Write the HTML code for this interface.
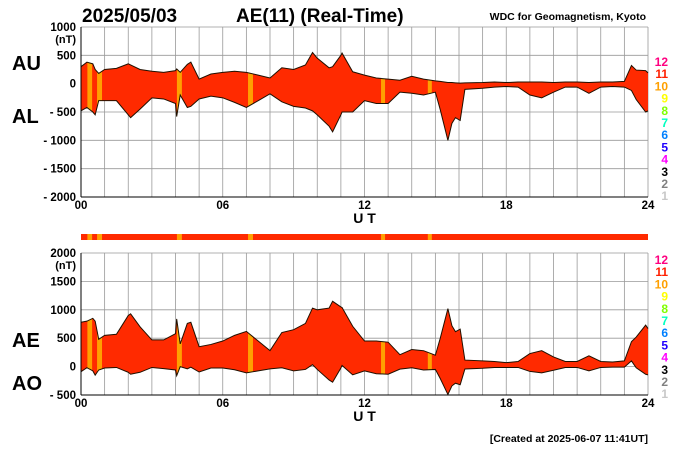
<!DOCTYPE html>
<html><head><meta charset="utf-8"><style>
body{margin:0;background:#fff;width:700px;height:450px;overflow:hidden}
svg{display:block;font-family:"Liberation Sans",Arial,sans-serif;font-weight:bold}
</style></head><body>
<svg id="c" width="700" height="450" viewBox="0 0 700 450">
<text x="82" y="22" font-size="19">2025/05/03</text>
<text x="236" y="22" font-size="19">AE(11) (Real-Time)</text>
<text x="646" y="20" font-size="10.5" text-anchor="end" style="font-weight:600">WDC for Geomagnetism, Kyoto</text>
<text x="12" y="70" font-size="20">AU</text>
<text x="12" y="123" font-size="20">AL</text>
<text x="12" y="347" font-size="20">AE</text>
<text x="12" y="390" font-size="20">AO</text>
<text x="648" y="442" font-size="10.5" text-anchor="end">[Created at 2025-06-07 11:41UT]</text>
<g id="g"></g>
</svg>
<script>
const hours=[0,0.25,0.5,0.6,0.75,1,1.5,2,2.1,2.5,3,3.5,4,4.05,4.2,4.5,4.65,5,5.5,6,6.5,7,7.5,8,8.5,9,9.5,9.8,10,10.5,10.65,11,11.05,11.5,12,12.5,13,13.5,14,14.5,15,15.2,15.53,15.7,15.85,16.05,16.25,17,17.5,18,18.5,19,19.5,20,20.5,21,21.5,22,22.5,23,23.3,23.5,23.9,24];
const au=[300,380,350,250,180,250,270,350,330,250,220,200,230,260,200,340,380,80,170,200,220,200,150,100,280,250,330,550,450,280,300,500,540,210,150,100,80,60,130,80,50,40,20,20,15,10,15,20,30,20,30,30,30,20,30,30,20,30,30,40,320,240,230,190];
const al=[-480,-420,-500,-550,-300,-300,-300,-550,-600,-450,-250,-270,-350,-580,-200,-420,-400,-270,-220,-250,-330,-420,-300,-180,-320,-400,-430,-480,-550,-750,-850,-550,-500,-500,-300,-350,-350,-150,-170,-200,-150,-450,-1000,-700,-600,-650,-100,-80,-60,-50,-60,-200,-250,-150,-60,-60,-170,-60,-50,-60,-120,-280,-500,-480];
const fewStart=[0.27,0.68,4.06,7.07,12.7,14.68];
const fewEnd=[0.47,0.89,4.27,7.28,12.87,14.85];
const topTicks=[1000,500,0,-500,-1000,-1500,-2000];
const botTicks=[2000,1500,1000,500,0,-500];
const xTicks=["00","06","12","18","24"];
const legendNums=["12","11","10","9","8","7","6","5","4","3","2","1"];
const legendCols=["#ff0080","#ff2000","#ffa000","#ffff00","#80ff00","#00ffc0","#0080ff","#2000ff","#ff00ff","#000000","#808080","#c8c8c8"];

const NS="http://www.w3.org/2000/svg",g=document.getElementById('g');
const X0=81,X1=648;
const xs=h=>X0+(X1-X0)*h/24;
function mk(t,a,p){const e=document.createElementNS(NS,t);for(const k in a)e.setAttribute(k,a[k]);(p||g).appendChild(e);return e;}
function panel(id,yTop,yBot,vMax,vMin,upper,lower,ticks,legTop){
  const ys=v=>yTop+(vMax-v)*(yBot-yTop)/(vMax-vMin);
  const pg=mk('g',{});
  
  
  for(let h=0;h<=24;h++){const l=mk('line',{x1:xs(h),x2:xs(h),y1:yTop,y2:yBot,stroke:'#999','stroke-width':0.8},pg);
    }
  ticks.forEach(v=>{const l=mk('line',{x1:X0,x2:X1,y1:ys(v),y2:ys(v),stroke:'#999','stroke-width':0.8},pg);
    
    const t=mk('text',{x:76,y:ys(v)+4,'font-size':11.5,'text-anchor':'end'},pg);
    t.textContent=v<0?'- '+(-v):String(v);
    });
  const u=mk('text',{x:76,y:ys(ticks[0])+16,'font-size':11,'text-anchor':'end'},pg);u.textContent='(nT)';
  
  let d='M'+hours.map((h,i)=>xs(h)+','+ys(upper[i])).join(' L');
  for(let i=hours.length-1;i>=0;i--)d+=' L'+xs(hours[i])+','+ys(lower[i]);
  d+='Z';
  const cp=mk('clipPath',{id:id+'clip'},pg);mk('path',{d:d},cp);
  const a=mk('path',{d:d,fill:'#ff2a00',stroke:'none'},pg);
  
  fewStart.forEach((s,i)=>{const r=mk('rect',{x:xs(s),y:yTop,width:xs(fewEnd[i])-xs(s),height:yBot-yTop,fill:'#ffa000','clip-path':'url(#'+id+'clip)'},pg);
    });
  const l1=mk('polyline',{points:hours.map((h,i)=>xs(h)+','+ys(upper[i])).join(' '),fill:'none',stroke:'#201000','stroke-width':1},pg);
  
  const l2=mk('polyline',{points:hours.map((h,i)=>xs(h)+','+ys(lower[i])).join(' '),fill:'none',stroke:'#201000','stroke-width':1},pg);
  
  const ax=mk('line',{x1:X0,x2:X0,y1:yTop,y2:yBot,stroke:'#000','stroke-width':1},pg);
  
  const bx=mk('line',{x1:X0,x2:X1,y1:yBot,y2:yBot,stroke:'#000','stroke-width':1},pg);
  
  xTicks.forEach((s,i)=>{const t=mk('text',{x:xs(i*6),y:yBot+12,'font-size':11.5,'text-anchor':'middle'},pg);t.textContent=s;
    });
  const ut=mk('text',{x:xs(12),y:yBot+26,'font-size':14,'text-anchor':'middle'},pg);ut.textContent='U T';
  
  legendNums.forEach((n,i)=>{const t=mk('text',{x:668,y:legTop+i*12.2,'font-size':12,'text-anchor':'end',fill:legendCols[i]},pg);t.textContent=n;
    });
}
panel('au-al',27,197,1000,-2000,au,al,topTicks,66);
const ae=au.map((v,i)=>v-al[i]);
const ao=au.map((v,i)=>(v+al[i])/2);
panel('ae-ao',253,395,2000,-500,ae,ao,botTicks,264);
const bar=mk('rect',{x:X0,y:234,width:X1-X0,height:6,fill:'#ff2a00'});


fewStart.forEach((s,i)=>{const r=mk('rect',{x:xs(s),y:234,width:xs(fewEnd[i])-xs(s),height:6,fill:'#ffa000'});
  
  });
</script>
</body></html>
